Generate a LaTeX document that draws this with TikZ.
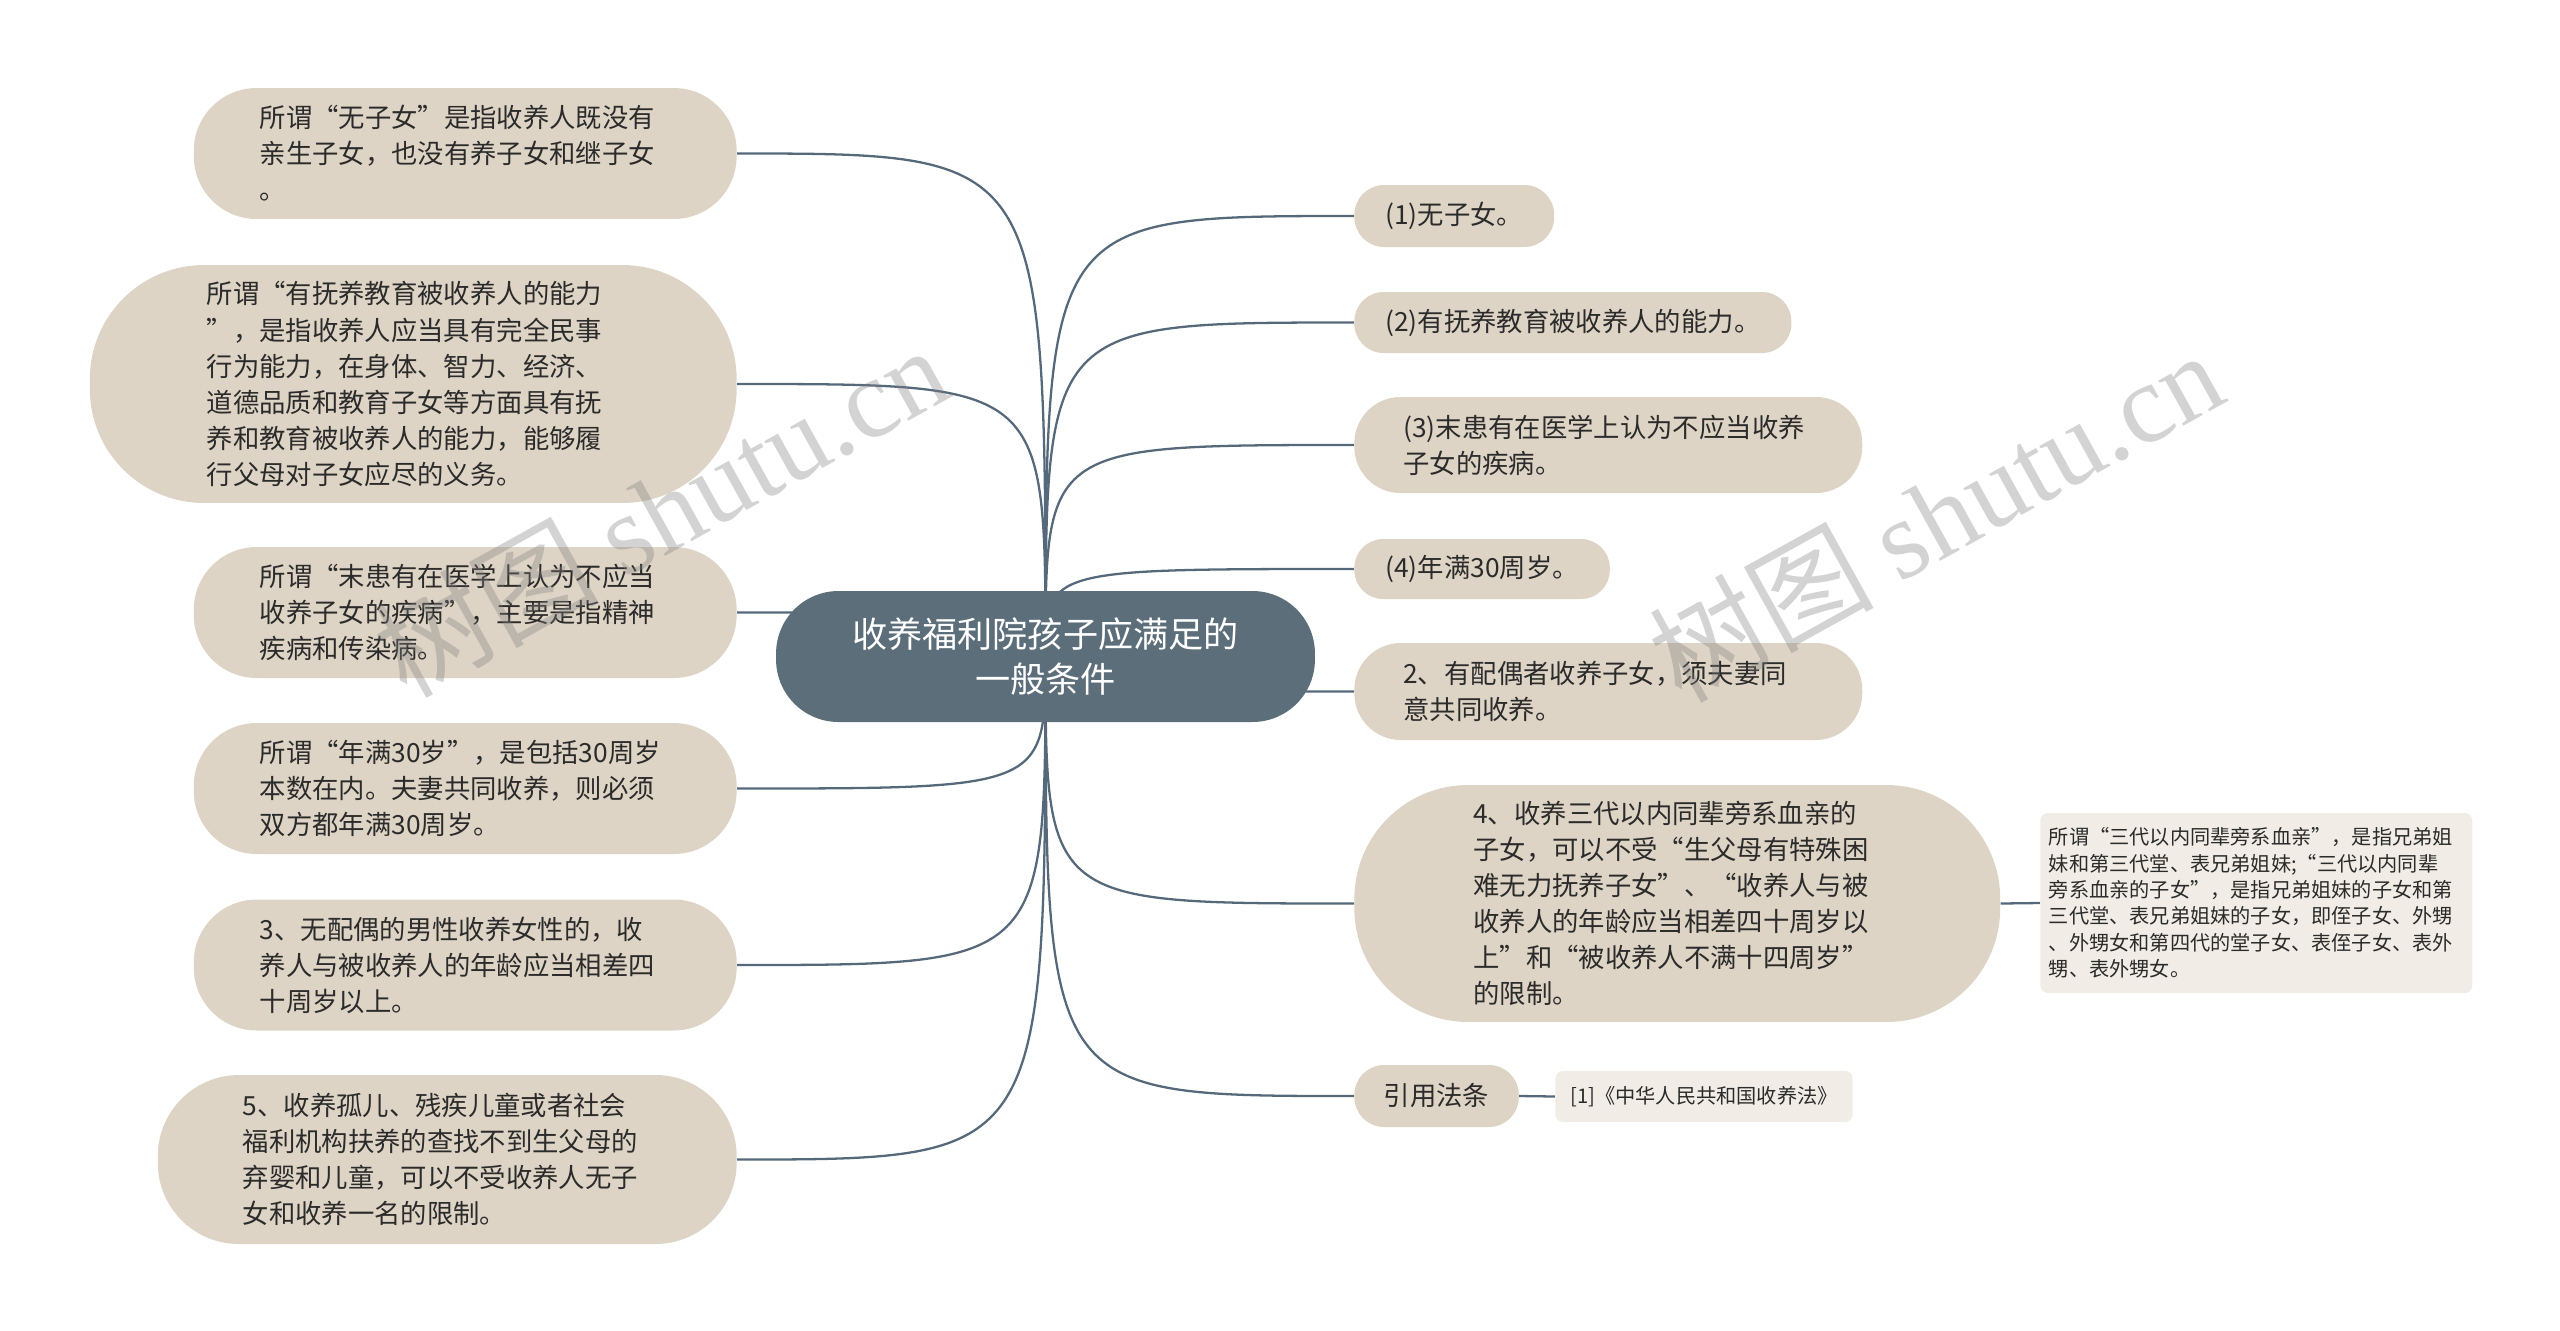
\documentclass[tikz,border=0pt]{standalone}
\usepackage{fontspec}
\setmainfont{Noto Sans CJK SC}
\newfontfamily\markfont{Liberation Serif}
\usetikzlibrary{backgrounds}

\definecolor{topicfill}{HTML}{5C6E7A}
\definecolor{leaffill}{HTML}{DED4C5}
\definecolor{notefill}{HTML}{F1EDE6}
\definecolor{linkgray}{HTML}{56697A}
\definecolor{inkgray}{HTML}{2B2B2B}

\tikzset{
  topic/.style={fill=topicfill, text=white, inner sep=0pt, align=center,
    minimum width=10.78cm, minimum height=2.62cm, rounded corners=1.25cm,
    font=\fontsize{20}{26}\selectfont},
  leaf/.style={fill=leaffill, text=inkgray, inner sep=0pt, align=left,
    font=\fontsize{15}{20.5}\selectfont},
  pill/.style={minimum height=#1, rounded corners=0.48*#1},
  note/.style={fill=notefill, text=inkgray, inner sep=0pt, align=left,
    rounded corners=0.15cm, font=\fontsize{11.5}{15}\selectfont},
  link/.style={draw=linkgray, line width=1.3pt},
  watermark/.style={text=gray, opacity=0.35, rotate=29,
    font=\fontsize{64}{64}\selectfont},
}

\begin{document}
\begin{tikzpicture}[x=0.02cm, y=-0.02cm]
  \useasboundingbox (0,0) rectangle (2560,1330);
  % central topic
  \node[topic] (topic) at (1045.5,656.5) {收养福利院孩子应满足的\\一般条件};
  % left branches: explanations
  \node[leaf, pill=2.62cm, anchor=east, minimum width=10.86cm, text width=8.22cm]
    (l1) at (737,153.5) {所谓“无子女”是指收养人既没有\\亲生子女，也没有养子女和继子女\\。};
  \node[leaf, pill=4.76cm, anchor=east, minimum width=12.94cm, text width=8.26cm]
    (l2) at (737,384) {所谓“有抚养教育被收养人的能力\\”，是指收养人应当具有完全民事\\行为能力，在身体、智力、经济、\\道德品质和教育子女等方面具有抚\\养和教育被收养人的能力，能够履\\行父母对子女应尽的义务。};
  \node[leaf, pill=2.62cm, anchor=east, minimum width=10.86cm, text width=8.22cm]
    (l3) at (737,612.5) {所谓“末患有在医学上认为不应当\\收养子女的疾病”，主要是指精神\\疾病和传染病。};
  \node[leaf, pill=2.62cm, anchor=east, minimum width=10.86cm, text width=8.22cm]
    (l4) at (737,788.5) {所谓“年满30岁”，是包括30周岁\\本数在内。夫妻共同收养，则必须\\双方都年满30周岁。};
  \node[leaf, pill=2.62cm, anchor=east, minimum width=10.86cm, text width=8.22cm]
    (l5) at (737,965) {3、无配偶的男性收养女性的，收\\养人与被收养人的年龄应当相差四\\十周岁以上。};
  \node[leaf, pill=3.38cm, anchor=east, minimum width=11.58cm, text width=8.18cm]
    (l6) at (737,1159.5) {5、收养孤儿、残疾儿童或者社会\\福利机构扶养的查找不到生父母的\\弃婴和儿童，可以不受收养人无子\\女和收养一名的限制。};
  % right branches: conditions
  \node[leaf, pill=1.24cm, anchor=west, inner xsep=0.62cm]
    (r1) at (1354,216) {(1)无子女。};
  \node[leaf, pill=1.22cm, anchor=west, inner xsep=0.62cm]
    (r2) at (1354,322.5) {(2)有抚养教育被收养人的能力。};
  \node[leaf, pill=1.92cm, anchor=west, minimum width=10.16cm, text width=8.2cm]
    (r3) at (1354,445) {(3)末患有在医学上认为不应当收养\\子女的疾病。};
  \node[leaf, pill=1.2cm, anchor=west, inner xsep=0.62cm]
    (r4) at (1354,569) {(4)年满30周岁。};
  \node[leaf, pill=1.94cm, anchor=west, minimum width=10.16cm, text width=8.2cm]
    (r5) at (1354,691.5) {2、有配偶者收养子女，须夫妻同\\意共同收养。};
  \node[leaf, pill=4.74cm, anchor=west, minimum width=12.92cm, text width=8.16cm]
    (r6) at (1354,903.5) {4、收养三代以内同辈旁系血亲的\\子女，可以不受“生父母有特殊困\\难无力抚养子女”、“收养人与被\\收养人的年龄应当相差四十周岁以\\上”和“被收养人不满十四周岁”\\的限制。};
  \node[leaf, pill=1.24cm, anchor=west, inner xsep=0.59cm]
    (r7) at (1354,1096) {引用法条};
  % notes
  \node[note, anchor=west, minimum width=8.64cm, minimum height=3.6cm, text width=8.3cm]
    (n6) at (2040,903) {所谓“三代以内同辈旁系血亲”，是指兄弟姐\\妹和第三代堂、表兄弟姐妹;“三代以内同辈\\旁系血亲的子女”，是指兄弟姐妹的子女和第\\三代堂、表兄弟姐妹的子女，即侄子女、外甥\\、外甥女和第四代的堂子女、表侄子女、表外\\甥、表外甥女。};
  \node[note, anchor=west, minimum height=1.02cm, inner xsep=0.3cm]
    (n7) at (1555,1096.5) {[1]《中华人民共和国收养法》};
  % connectors
  \begin{scope}[on background layer]
    \foreach \n in {l1,l2,l3,l4,l5,l6}
      \draw[link] (topic.center) .. controls (topic.center |- \n.east) .. (\n.east);
    \foreach \n in {r1,r2,r3,r4,r5,r6,r7}
      \draw[link] (topic.center) .. controls (topic.center |- \n.west) .. (\n.west);
    \draw[link] (r6.east) -- (n6.west);
    \draw[link] (r7.east) -- (n7.west);
  \end{scope}
  % watermarks
  \node[watermark] (mark1) at (660,510) {树图 {\markfont shutu.cn}};
  \node[watermark] (mark2) at (1935,515) {树图 {\markfont shutu.cn}};
\end{tikzpicture}
\end{document}
